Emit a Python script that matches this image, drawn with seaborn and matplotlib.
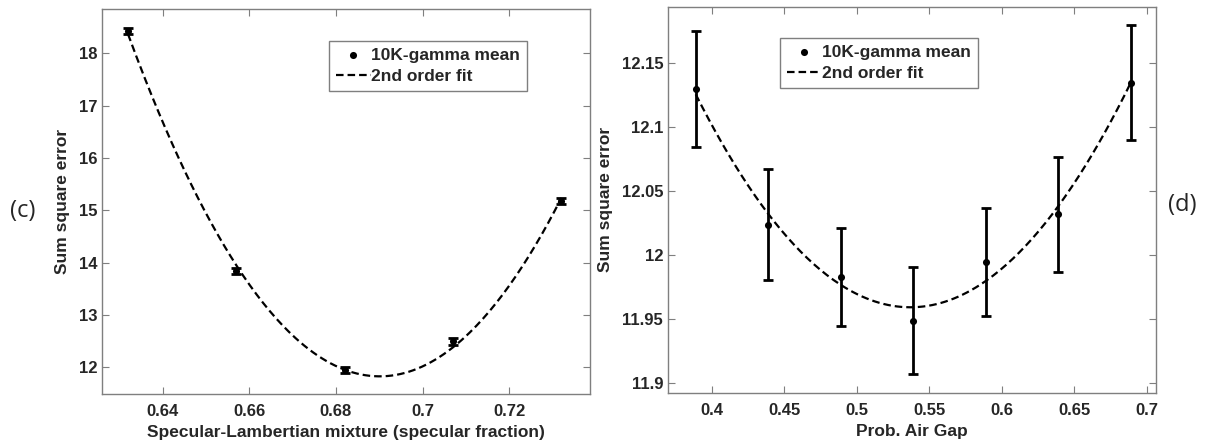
import numpy as np
import pandas as pd
import matplotlib
matplotlib.use("Agg")
import matplotlib.pyplot as plt
import seaborn as sns

# Panel (c): specular-Lambertian mixture sweep
spec_frac = [0.632, 0.657, 0.682, 0.707, 0.732]
spec_sse = [18.43, 13.84, 11.95, 12.50, 15.18]
spec_err = [0.065, 0.06, 0.06, 0.065, 0.06]

# Panel (d): air-gap probability sweep
gap_prob = [0.389, 0.439, 0.489, 0.539, 0.589, 0.639, 0.689]
gap_sse = [12.130, 12.024, 11.983, 11.949, 11.995, 12.032, 12.135]
gap_err = [0.045, 0.0435, 0.0385, 0.042, 0.042, 0.045, 0.045]

c_xticks = [0.64, 0.66, 0.68, 0.70, 0.72]
c_xticklabels = ["0.64", "0.66", "0.68", "0.7", "0.72"]
c_yticks = [12, 13, 14, 15, 16, 17, 18]
c_yticklabels = ["12", "13", "14", "15", "16", "17", "18"]
d_xticks = [0.40, 0.45, 0.50, 0.55, 0.60, 0.65, 0.70]
d_xticklabels = ["0.4", "0.45", "0.5", "0.55", "0.6", "0.65", "0.7"]
d_yticks = [11.90, 11.95, 12.00, 12.05, 12.10, 12.15]
d_yticklabels = ["11.9", "11.95", "12", "12.05", "12.1", "12.15"]

sns.set_theme(style="white")
plt.rcParams["font.family"] = ["Liberation Sans", "DejaVu Sans"]
plt.rcParams["font.weight"] = "bold"

fig = plt.figure(figsize=(12.05, 4.42), dpi=100)
ax_c = fig.add_axes([0.0846, 0.1086, 0.4050, 0.8710])
ax_d = fig.add_axes([0.5544, 0.1115, 0.4050, 0.8727])

frame_col = "#7f7f7f"


def panel(ax, x, y, err, xlim, ylim, xticks, xtl, yticks, ytl, xlabel, legend_anchor):
    x = np.asarray(x)
    y = np.asarray(y)
    # quadratic least-squares fit through the means
    coef = np.polyfit(x, y, 2)
    xf = np.linspace(x.min(), x.max(), 200)
    fit = pd.DataFrame({"x": xf, "y": np.polyval(coef, xf)})
    pts = pd.DataFrame({"x": x, "y": y})

    ax.errorbar(x, y, yerr=err, fmt="none", ecolor="black", elinewidth=2.0,
                capsize=3.8, capthick=2.0, zorder=2)
    sns.lineplot(data=fit, x="x", y="y", ax=ax, color="black", lw=1.6,
                 linestyle=(0, (3.4, 1.8)), label="2nd order fit", zorder=3)
    sns.scatterplot(data=pts, x="x", y="y", ax=ax, color="black", s=26,
                    edgecolor="black", linewidth=0, label="10K-gamma mean", zorder=4)

    ax.set_xlim(*xlim)
    ax.set_ylim(*ylim)
    ax.set_xticks(xticks)
    ax.set_xticklabels(xtl)
    ax.set_yticks(yticks)
    ax.set_yticklabels(ytl)
    ax.tick_params(direction="in", length=5, width=0.8, color=frame_col,
                   labelsize=12, top=True, right=True, bottom=True, left=True)
    ax.tick_params(axis="x", pad=7.5)
    ax.tick_params(axis="y", pad=3.5)
    for lab in ax.get_xticklabels() + ax.get_yticklabels():
        lab.set_fontweight("bold")
    for sp in ax.spines.values():
        sp.set_color(frame_col)
        sp.set_linewidth(1.0)
        sp.set_visible(True)
    ax.set_xlabel(xlabel, fontsize=12.5, fontweight="bold", labelpad=4)
    ax.set_ylabel("Sum square error", fontsize=12.5, fontweight="bold", labelpad=6.5)

    handles, labels = ax.get_legend_handles_labels()
    order = [labels.index("10K-gamma mean"), labels.index("2nd order fit")]
    leg = ax.legend([handles[i] for i in order], [labels[i] for i in order],
                    loc="upper left", bbox_to_anchor=legend_anchor,
                    frameon=True, fancybox=False, framealpha=1,
                    edgecolor=frame_col, fontsize=12.5, handlelength=2.0,
                    handletextpad=0.05, borderpad=0.4, labelspacing=0.35,
                    borderaxespad=0)
    leg.get_frame().set_linewidth(1.0)
    for t in leg.get_texts():
        t.set_fontweight("bold")


panel(ax_c, spec_frac, spec_sse, spec_err, (0.6260, 0.7386), (11.49, 18.85),
      c_xticks, c_xticklabels, c_yticks, c_yticklabels,
      "Specular-Lambertian mixture (specular fraction)", (0.465, 0.918))
panel(ax_d, gap_prob, gap_sse, gap_err, (0.3699, 0.7064), (11.8927, 12.194),
      d_xticks, d_xticklabels, d_yticks, d_yticklabels,
      "Prob. Air Gap", (0.229, 0.920))

fig.text(23 / 1205, 1 - 211 / 442, "(c)", fontsize=17, fontweight="normal",
         family=["Open Sans", "DejaVu Sans"], ha="center", va="center")
fig.text(1182 / 1205, 1 - 205 / 442, "(d)", fontsize=17, fontweight="normal",
         family=["Open Sans", "DejaVu Sans"], ha="center", va="center")

fig.savefig("out.png", dpi=100, facecolor="white")
